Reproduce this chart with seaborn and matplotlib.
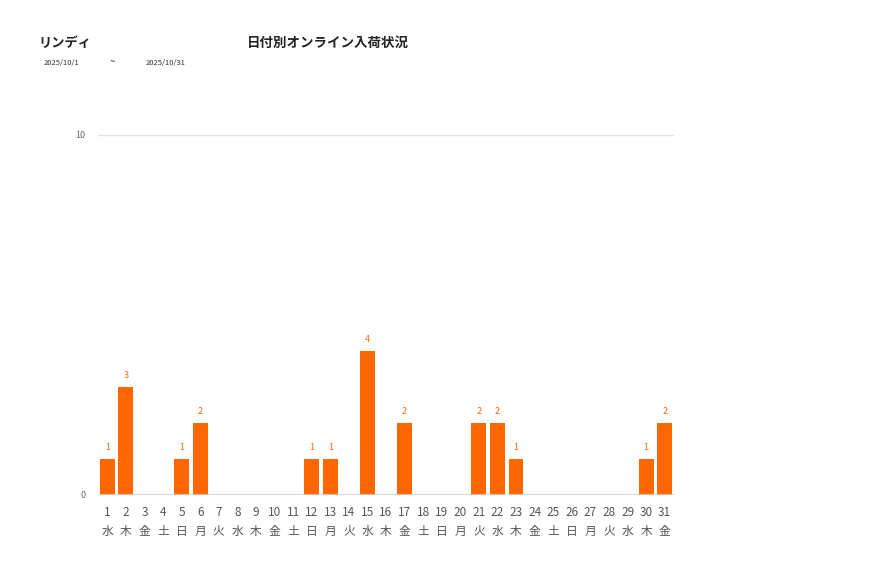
import matplotlib
matplotlib.use("Agg")
import matplotlib.pyplot as plt
import seaborn as sns
import pandas as pd

days = [str(i) for i in range(1, 32)]
weekdays = ["水","木","金","土","日","月","火","水","木","金","土","日","月","火","水","木","金","土","日","月","火","水","木","金","土","日","月","火","水","木","金"]
values = [1,3,0,0,1,2,0,0,0,0,0,1,1,0,4,0,2,0,0,0,2,2,1,0,0,0,0,0,0,1,2]

sns.set_theme(style="white")
plt.rcParams['font.family'] = ['Noto Sans CJK JP', 'DejaVu Sans']

df = pd.DataFrame({"day": days, "value": values})
fig = plt.figure(figsize=(8.77, 5.78), dpi=100)
ax = fig.add_axes([98/877, 1-495/578, (674-98)/877, (495-135)/578])
sns.barplot(data=df, x="day", y="value", color="#FF6600", saturation=1, width=0.8, ax=ax, edgecolor="none")
ax.set_ylim(0, 10)
ax.set_xlim(-0.5, 30.5)
for s in ax.spines.values():
    s.set_visible(False)
ax.axhline(10, color="#e3e3e3", lw=1, zorder=0)
ax.axhline(0, color="#d0d0d0", lw=1.2, zorder=3)
ax.set_yticks([0, 10])
ax.set_yticklabels(["0", "10"], fontsize=6.5, color="#666666")
ax.tick_params(axis="y", length=0, pad=9)
ax.set_xticks(range(31))
ax.set_xticklabels([f"{d}\n{w}" for d, w in zip(days, weekdays)], fontsize=8.5, color="#555555", linespacing=1.55)
ax.tick_params(axis="x", length=0, pad=8)
ax.set_xlabel("")
ax.set_ylabel("")
for i, v in enumerate(values):
    if v > 0:
        ax.text(i, v + 0.2, str(v), ha="center", va="bottom", fontsize=6.5, color="#FF6600")

fig.text(38/877, 1-43/578, "リンディ", fontsize=9.5, fontweight="bold", va="center", ha="left", color="#222222")
fig.text(328/877, 1-43/578, "日付別オンライン入荷状況", fontsize=9.7, fontweight="bold", va="center", ha="center", color="#222222")
fig.text(44/877, 1-63/578, "2025/10/1", fontsize=5.5, va="center", ha="left", color="#333333")
fig.text(112/877, 1-62/578, "~", fontsize=7, va="center", ha="center", color="#333333")
fig.text(146/877, 1-63/578, "2025/10/31", fontsize=5.5, va="center", ha="left", color="#333333")

fig.savefig("out.png", dpi=100, facecolor="white")
